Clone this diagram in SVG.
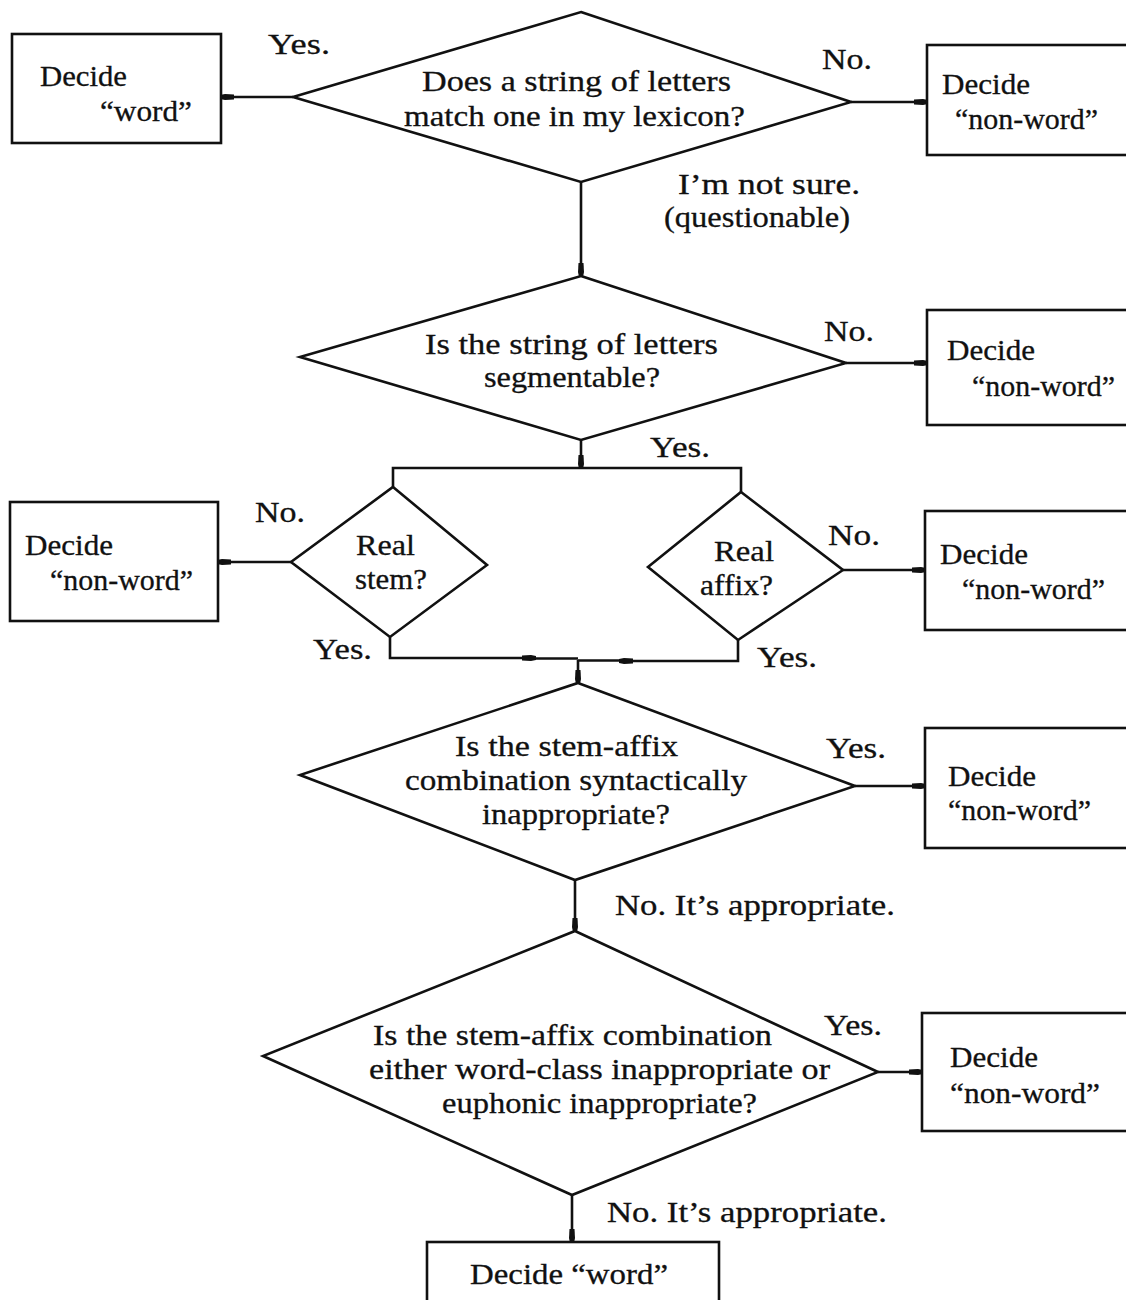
<svg xmlns="http://www.w3.org/2000/svg" width="1126" height="1300" viewBox="0 0 1126 1300">
<defs>
<style>
.box{fill:none;stroke:#111;stroke-width:2.6}
.dia{fill:none;stroke:#111;stroke-width:2.6;stroke-linejoin:miter}
.ln{fill:none;stroke:#111;stroke-width:2.6}
.arr{fill:none;stroke:#111;stroke-width:2.6;marker-end:url(#ah)}
text{font-family:"Liberation Serif","Times New Roman",serif;font-size:30px;fill:#111;stroke:#111;stroke-width:0.3}
</style>
<marker id="ah" viewBox="0 0 14 8" refX="13" refY="4" markerWidth="14" markerHeight="8" markerUnits="userSpaceOnUse" orient="auto">
<path d="M0,1.5 L9,1 L14,2 L14,6 L9,7 L0,6.5 z" fill="#111"/>
</marker>
</defs>
<rect width="1126" height="1300" fill="#fff"/>

<g id="connectors">
<path class="arr" d="M293,97 H221"/>
<path class="arr" d="M851,102 H927"/>
<path class="arr" d="M581,182 V276"/>
<path class="arr" d="M846,363 H927"/>
<path class="arr" d="M581,440 V468"/>
<path class="ln" d="M393,487 V468 H741 V492"/>
<path class="arr" d="M291,562 H218"/>
<path class="arr" d="M843,570 H925"/>
<path class="arr" d="M390,637 V658 H535"/>
<path class="ln" d="M535,658.5 H578"/>
<path class="arr" d="M738,640 V661 H620"/>
<path class="ln" d="M620,660.5 H578"/>
<path class="arr" d="M578,660 V683"/>
<path class="arr" d="M855,786 H925"/>
<path class="arr" d="M575,880 V931"/>
<path class="arr" d="M878,1072 H922"/>
<path class="arr" d="M572,1195 V1242"/>
</g>

<g id="labels">
<text x="268" y="54" textLength="62" lengthAdjust="spacingAndGlyphs">Yes.</text>
<text x="822" y="69" textLength="50" lengthAdjust="spacingAndGlyphs">No.</text>
<text x="678" y="194" textLength="182" lengthAdjust="spacingAndGlyphs">I’m not sure.</text>
<text x="664" y="227" textLength="186" lengthAdjust="spacingAndGlyphs">(questionable)</text>
<text x="824" y="341" textLength="50" lengthAdjust="spacingAndGlyphs">No.</text>
<text x="650" y="457" textLength="60" lengthAdjust="spacingAndGlyphs">Yes.</text>
<text x="255" y="522" textLength="50" lengthAdjust="spacingAndGlyphs">No.</text>
<text x="828" y="545" textLength="52" lengthAdjust="spacingAndGlyphs">No.</text>
<text x="313" y="659" textLength="59" lengthAdjust="spacingAndGlyphs">Yes.</text>
<text x="757" y="667" textLength="60" lengthAdjust="spacingAndGlyphs">Yes.</text>
<text x="826" y="758" textLength="60" lengthAdjust="spacingAndGlyphs">Yes.</text>
<text x="615" y="915" textLength="280" lengthAdjust="spacingAndGlyphs">No. It’s appropriate.</text>
<text x="824" y="1035" textLength="58" lengthAdjust="spacingAndGlyphs">Yes.</text>
<text x="607" y="1222" textLength="280" lengthAdjust="spacingAndGlyphs">No. It’s appropriate.</text>
</g>

<g id="box-word-top">
<rect class="box" x="12" y="34" width="209" height="109"/>
<text x="40" y="86" textLength="87" lengthAdjust="spacingAndGlyphs">Decide</text>
<text x="100" y="121" textLength="92" lengthAdjust="spacingAndGlyphs">“word”</text>
</g>

<g id="dia-lexicon">
<polygon class="dia" points="581,12 851,102 581,182 293,97"/>
<text x="422" y="91" textLength="309" lengthAdjust="spacingAndGlyphs">Does a string of letters</text>
<text x="404" y="126" textLength="341" lengthAdjust="spacingAndGlyphs">match one in my lexicon?</text>
</g>

<g id="box-nonword-1">
<rect class="box" x="927" y="45" width="250" height="110"/>
<text x="942" y="94" textLength="88" lengthAdjust="spacingAndGlyphs">Decide</text>
<text x="955" y="129" textLength="143" lengthAdjust="spacingAndGlyphs">“non-word”</text>
</g>

<g id="dia-segmentable">
<polygon class="dia" points="581,276 846,363 581,440 300,357"/>
<text x="425" y="354" textLength="293" lengthAdjust="spacingAndGlyphs">Is the string of letters</text>
<text x="484" y="387" textLength="176" lengthAdjust="spacingAndGlyphs">segmentable?</text>
</g>

<g id="box-nonword-2">
<rect class="box" x="927" y="310" width="250" height="115"/>
<text x="947" y="360" textLength="88" lengthAdjust="spacingAndGlyphs">Decide</text>
<text x="972" y="396" textLength="143" lengthAdjust="spacingAndGlyphs">“non-word”</text>
</g>

<g id="dia-stem">
<polygon class="dia" points="393,487 487,565 390,637 291,562"/>
<text x="356" y="555" textLength="59" lengthAdjust="spacingAndGlyphs">Real</text>
<text x="355" y="589" textLength="72" lengthAdjust="spacingAndGlyphs">stem?</text>
</g>

<g id="box-nonword-stem">
<rect class="box" x="10" y="502" width="208" height="119"/>
<text x="25" y="555" textLength="88" lengthAdjust="spacingAndGlyphs">Decide</text>
<text x="50" y="590" textLength="143" lengthAdjust="spacingAndGlyphs">“non-word”</text>
</g>

<g id="dia-affix">
<polygon class="dia" points="741,492 843,570 738,640 648,567"/>
<text x="714" y="561" textLength="60" lengthAdjust="spacingAndGlyphs">Real</text>
<text x="700" y="595" textLength="73" lengthAdjust="spacingAndGlyphs">affix?</text>
</g>

<g id="box-nonword-affix">
<rect class="box" x="925" y="511" width="250" height="119"/>
<text x="940" y="564" textLength="88" lengthAdjust="spacingAndGlyphs">Decide</text>
<text x="962" y="599" textLength="143" lengthAdjust="spacingAndGlyphs">“non-word”</text>
</g>

<g id="dia-syntactic">
<polygon class="dia" points="578,683 855,786 575,880 300,775"/>
<text x="455" y="756" textLength="223" lengthAdjust="spacingAndGlyphs">Is the stem-affix</text>
<text x="405" y="790" textLength="342" lengthAdjust="spacingAndGlyphs">combination syntactically</text>
<text x="482" y="824" textLength="188" lengthAdjust="spacingAndGlyphs">inappropriate?</text>
</g>

<g id="box-nonword-3">
<rect class="box" x="925" y="728" width="250" height="120"/>
<text x="948" y="786" textLength="88" lengthAdjust="spacingAndGlyphs">Decide</text>
<text x="948" y="820" textLength="143" lengthAdjust="spacingAndGlyphs">“non-word”</text>
</g>

<g id="dia-wordclass">
<polygon class="dia" points="575,931 878,1072 572,1195 263,1056"/>
<text x="373" y="1045" textLength="399" lengthAdjust="spacingAndGlyphs">Is the stem-affix combination</text>
<text x="369" y="1079" textLength="461" lengthAdjust="spacingAndGlyphs">either word-class inappropriate or</text>
<text x="442" y="1113" textLength="315" lengthAdjust="spacingAndGlyphs">euphonic inappropriate?</text>
</g>

<g id="box-nonword-4">
<rect class="box" x="922" y="1013" width="250" height="118"/>
<text x="950" y="1067" textLength="88" lengthAdjust="spacingAndGlyphs">Decide</text>
<text x="950" y="1103" textLength="150" lengthAdjust="spacingAndGlyphs">“non-word”</text>
</g>

<g id="box-word-bottom">
<rect class="box" x="427" y="1242" width="292" height="80"/>
<text x="470" y="1284" textLength="198" lengthAdjust="spacingAndGlyphs">Decide “word”</text>
</g>
</svg>
